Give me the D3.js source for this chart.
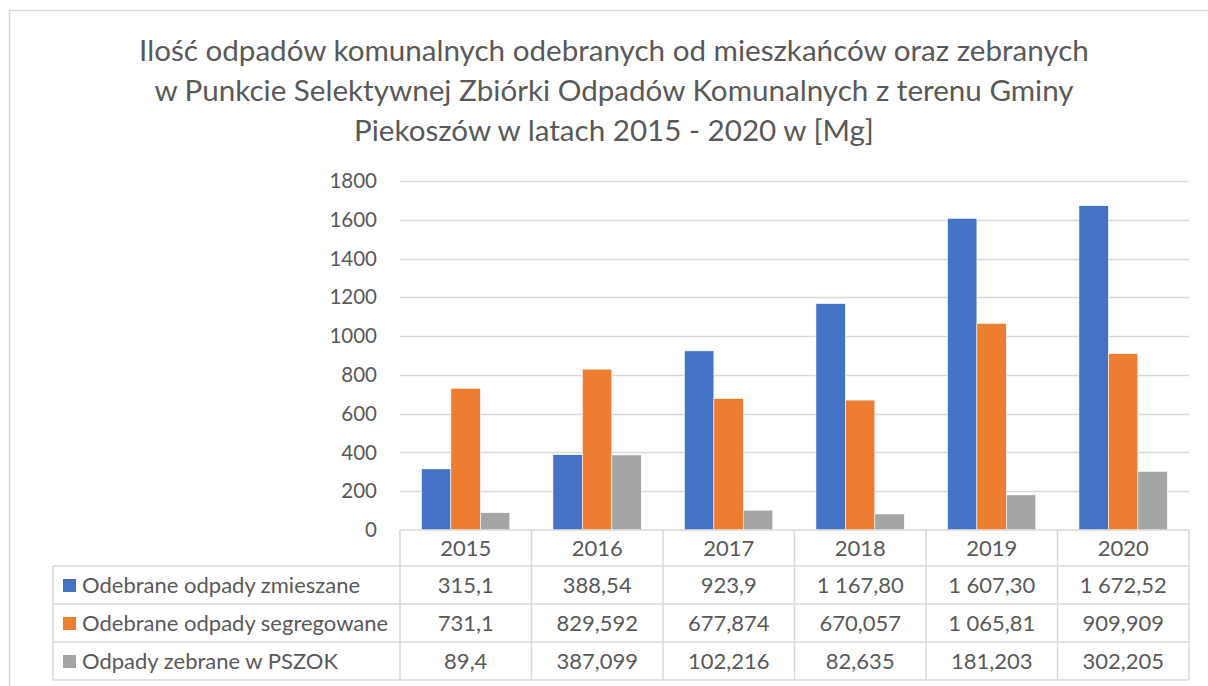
<!DOCTYPE html>
<html lang="pl">
<head>
<meta charset="utf-8">
<title>Odpady komunalne Piekoszów</title>
<script src="https://cdn.jsdelivr.net/npm/d3@7"></script>
<style>
  * { margin: 0; padding: 0; }
  body { background: #fff; }
  svg { display: block; }
  text { font-family: Lato, "Open Sans", sans-serif; fill: #595959; }
</style>
</head>
<body>
<div id="chart"></div>
<script>
  const years = ["2015", "2016", "2017", "2018", "2019", "2020"];
  const seriesNames = ["Odebrane odpady zmieszane", "Odebrane odpady segregowane", "Odpady zebrane w PSZOK"];
  const zmieszane = [315.1, 388.54, 923.9, 1167.80, 1607.30, 1672.52];
  const segregowane = [731.1, 829.592, 677.874, 670.057, 1065.81, 909.909];
  const pszok = [89.4, 387.099, 102.216, 82.635, 181.203, 302.205];
  const tableLabels = [
    ["315,1", "388,54", "923,9", "1 167,80", "1 607,30", "1 672,52"],
    ["731,1", "829,592", "677,874", "670,057", "1 065,81", "909,909"],
    ["89,4", "387,099", "102,216", "82,635", "181,203", "302,205"]
  ];
  const yTicks = [0, 200, 400, 600, 800, 1000, 1200, 1400, 1600, 1800];
  const titleLines = [
    "Ilość odpadów komunalnych odebranych od mieszkańców oraz zebranych",
    "w Punkcie Selektywnej Zbiórki Odpadów Komunalnych z terenu Gminy",
    "Piekoszów w latach 2015 - 2020 w [Mg]"
  ];
  const colors = ["#4472C4", "#ED7D31", "#A5A5A5"];
  const seriesValues = [zmieszane, segregowane, pszok];

  const W = 1208, H = 686;
  const svg = d3.select("#chart").append("svg")
    .attr("width", W).attr("height", H);

  // outer chart border
  svg.append("rect")
    .attr("x", 9.5).attr("y", 10.5)
    .attr("width", W + 20).attr("height", H + 20)
    .attr("fill", "none").attr("stroke", "#d9d9d9").attr("stroke-width", 1.5);

  // title
  const title = svg.append("g");
  titleLines.forEach((t, i) => {
    title.append("text")
      .attr("x", 614).attr("y", 61 + i * 40)
      .attr("text-anchor", "middle")
      .style("font-size", "29.6px")
      .text(t);
  });

  const plotLeft = 400, plotRight = 1189;
  const y = d3.scaleLinear().domain([0, 1800]).range([530, 181]);
  const x0 = d3.scaleBand().domain(years).range([plotLeft, plotRight]);
  const x1 = d3.scaleBand().domain(d3.range(3))
    .range([x0.bandwidth() * 0.163, x0.bandwidth() * 0.835]);

  // gridlines
  svg.append("g").selectAll("line")
    .data(yTicks.filter(d => d > 0))
    .join("line")
    .attr("x1", plotLeft).attr("x2", plotRight)
    .attr("y1", d => Math.round(y(d)) + 0.5).attr("y2", d => Math.round(y(d)) + 0.5)
    .attr("stroke", "#d9d9d9").attr("stroke-width", 1.3);

  // y axis labels
  const yAxis = d3.axisLeft(y).tickValues(yTicks).tickFormat(d3.format("d"))
    .tickSize(0).tickPadding(0);
  const gy = svg.append("g").attr("transform", "translate(377,0)").call(yAxis);
  gy.select(".domain").remove();
  gy.selectAll("text")
    .style("font-family", "Lato, 'Open Sans', sans-serif")
    .style("font-size", "20.5px")
    .attr("fill", "#595959");

  // bars
  const groups = svg.append("g").selectAll("g")
    .data(years)
    .join("g")
    .attr("transform", d => `translate(${x0(d)},0)`);
  groups.selectAll("rect")
    .data((d, i) => seriesValues.map((s, k) => ({ k, v: s[i] })))
    .join("rect")
    .attr("x", d => x1(d.k))
    .attr("width", x1.bandwidth())
    .attr("y", d => y(d.v))
    .attr("height", d => y(0) - y(d.v))
    .attr("fill", d => colors[d.k])
    .attr("stroke", "#fff").attr("stroke-width", 0.6);

  // data table
  const tableLeft = 53;
  const rowY = [530, 566, 604, 642, 680];
  const tbl = svg.append("g").attr("stroke", "#d9d9d9").attr("stroke-width", 1.5);
  tbl.append("line").attr("x1", plotLeft).attr("x2", plotRight).attr("y1", rowY[0]).attr("y2", rowY[0]);
  rowY.slice(1).forEach(ry => {
    tbl.append("line").attr("x1", tableLeft).attr("x2", plotRight).attr("y1", ry).attr("y2", ry);
  });
  tbl.append("line").attr("x1", tableLeft).attr("x2", tableLeft).attr("y1", rowY[1]).attr("y2", rowY[4]);
  years.concat(["end"]).forEach((yr, i) => {
    const xx = i < years.length ? x0(yr) : plotRight;
    tbl.append("line").attr("x1", xx).attr("x2", xx).attr("y1", rowY[0]).attr("y2", rowY[4]);
  });

  // year header
  svg.append("g").selectAll("text")
    .data(years)
    .join("text")
    .attr("x", d => x0(d) + x0.bandwidth() / 2)
    .attr("y", (rowY[0] + rowY[1]) / 2 + 8)
    .attr("text-anchor", "middle")
    .style("font-size", "22px")
    .text(d => d);

  // table rows
  seriesNames.forEach((name, r) => {
    const cy = (rowY[r + 1] + rowY[r + 2]) / 2;
    svg.append("rect")
      .attr("x", 63).attr("y", cy - 6)
      .attr("width", 13).attr("height", 13)
      .attr("fill", colors[r]);
    svg.append("text")
      .attr("x", 82).attr("y", cy + 8)
      .style("font-size", "22px")
      .text(name);
    svg.append("g").selectAll("text")
      .data(tableLabels[r])
      .join("text")
      .attr("x", (d, i) => x0(years[i]) + x0.bandwidth() / 2)
      .attr("y", cy + 8)
      .attr("text-anchor", "middle")
      .style("font-size", "22px")
      .text(d => d);
  });
</script>
</body>
</html>
